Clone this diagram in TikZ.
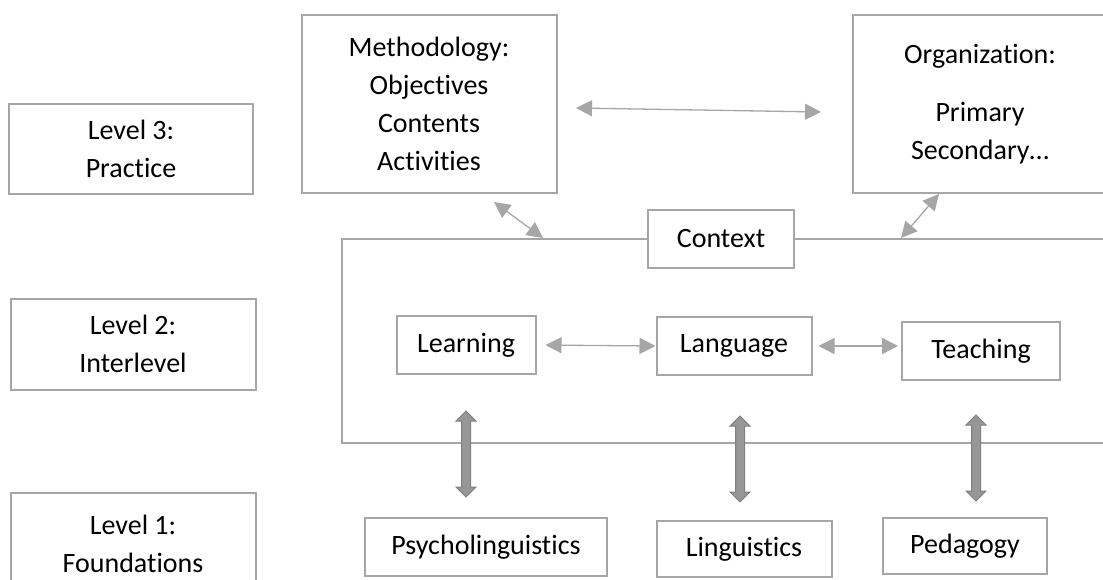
\documentclass[tikz,border=0pt]{standalone}
\usepackage{fontspec}
\setmainfont[Ligatures=NoCommon]{Carlito}
\usetikzlibrary{arrows.meta,shapes.arrows}
\definecolor{boxgray}{HTML}{A6A6A6}
\definecolor{fatfill}{HTML}{979797}
\definecolor{fatline}{HTML}{7F7F7F}
\begin{document}
\begin{tikzpicture}[x=1pt,y=-1pt,
    box/.style={draw=boxgray,line width=2pt,fill=white,inner sep=0pt,align=center,
      font=\fontsize{28}{38}\selectfont},
    arr/.style={draw=boxgray,line width=1.3pt,
      {Triangle[length=16pt,width=16pt]}-{Triangle[length=16pt,width=16pt]}},
    fatarr/.style={shape=double arrow,rotate=90,draw=fatline,fill=fatfill,line width=1pt,
      minimum height=86pt,minimum width=19pt,double arrow head extend=5.5pt,
      inner xsep=0pt,inner ysep=4pt}]
    \useasboundingbox (0,0) rectangle (1103,579);
    \clip (0,0) rectangle (1103,579);
    % levels
    \node[box,minimum width=244pt,minimum height=90pt] (lev3) at (131,149) {Level 3:\\Practice};
    \node[box,minimum width=245pt,minimum height=91pt] (lev2) at (133,344) {Level 2:\\Interlevel};
    \node[box,minimum width=245pt,minimum height=102pt] (lev1) at (133,544) {Level 1:\\Foundations};
    % level 3
    \node[box,minimum width=255pt,minimum height=178pt] (meth) at (429,104) {Methodology:\\Objectives\\Contents\\Activities};
    \node[box,minimum width=254pt,minimum height=178pt] (org) at (980,104) {Organization:\\[20pt]Primary\\Secondary…};
    % context frame
    \node[draw=boxgray,line width=2pt,minimum width=778pt,minimum height=204pt] (frame) at (731,341) {};
    \node[box,minimum width=146pt,minimum height=58pt] (ctx) at (721,239) {Context};
    % level 2
    \node[box,minimum width=139pt,minimum height=58pt] (learn) at (466,345) {Learning};
    \node[box,minimum width=155pt,minimum height=58pt] (lang) at (734,346) {Language};
    \node[box,minimum width=158pt,minimum height=58pt] (teach) at (981,351) {Teaching};
    % level 1
    \node[box,minimum width=242pt,minimum height=58pt] (psy) at (486,547) {Psycholinguistics};
    \node[box,minimum width=175pt,minimum height=56pt] (ling) at (744,549) {Linguistics};
    \node[box,minimum width=164pt,minimum height=56pt] (ped) at (965,546) {Pedagogy};
    % fat arrows
    \node[fatarr] (up1) at (466,454) {};
    \node[fatarr] (up2) at (740,459) {};
    \node[fatarr] (up3) at (976,458) {};
    % arrow ends
    \coordinate (m1) at (576,108);
    \coordinate (o1) at (821,112);
    \coordinate (m2) at (494,202);
    \coordinate (f1) at (543,238);
    \coordinate (o2) at (939,194);
    \coordinate (f2) at (901,238);
    \draw[arr] (m1) -- (o1);
    \draw[arr] (m2) -- (f1);
    \draw[arr] (o2) -- (f2);
    \draw[arr,shorten <=9pt] (learn.east) -- (lang.west);
    \draw[arr,shorten <=6pt,shorten >=3pt] (lang.east) -- (teach.west |- lang.east);
\end{tikzpicture}
\end{document}
